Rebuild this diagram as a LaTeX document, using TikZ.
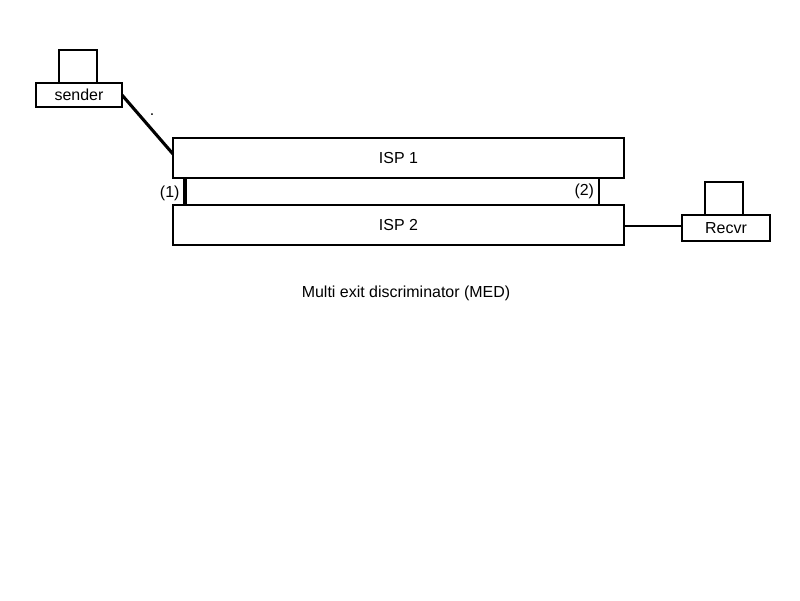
\documentclass[tikz,border=0pt]{standalone}
\usepackage{xcolor}
\usepackage{fontspec}
\setmainfont{Liberation Sans}
\usepackage{tikz}
\usetikzlibrary{positioning}
\newcommand{\difftext}{\fontsize{11.35}{13}\selectfont}
\tikzset{
    ispbox/.style={rectangle, draw=black, line width=1.4pt, outer sep=0pt, inner sep=0pt,
                   minimum width=11.275cm, minimum height=1cm, font=\difftext},
    hostbox/.style={rectangle, draw=black, line width=1.4pt, outer sep=0pt, inner sep=0pt,
                    minimum height=0.6cm, font=\difftext},
    screenbox/.style={rectangle, draw=black, line width=1.4pt, outer sep=0pt,
                      minimum width=0.95cm, minimum height=0.825cm},
    link/.style={draw=black, line width=1.4pt},
    heavylink/.style={draw=black, line width=2.2pt},
    edgelbl/.style={font=\difftext, inner sep=0pt},
    caplbl/.style={font=\difftext, inner sep=0pt},
}
\begin{document}
\begin{tikzpicture}[node distance=0.675cm and 1.45cm]
        \useasboundingbox (0,0) rectangle (20,-15);
        \node[ispbox] (isp1) at (9.9625,-3.95) {ISP 1};
        \node[ispbox, below=of isp1] (isp2) {ISP 2};
        \node[hostbox, minimum width=2.15cm] (sender) at (1.975,-2.375) {sender};
        \node[screenbox, above=0cm of sender, xshift=-0.025cm] (sendertop) {};
        \node[hostbox, minimum width=2.2cm, minimum height=0.65cm, right=of isp2, yshift=-0.075cm] (recvr) {Recvr};
        \node[screenbox, above=0cm of recvr, xshift=-0.05cm] (recvrtop) {};
        \node[caplbl] (title) at (10.15,-7.325) {Multi exit discriminator (MED)};
        \node[caplbl] (speck) at (3.8,-2.87) {.};
        \draw[heavylink] (sender.east) -- ([yshift=0.1cm]isp1.west);
        \draw[heavylink] ([xshift=0.3cm]isp1.south west) -- node[edgelbl, left=0.1cm, midway, yshift=-0.025cm] {(1)} ([xshift=0.3cm,yshift=-0.025cm]isp2.north west);
        \draw[link] ([xshift=-0.625cm]isp1.south east) -- node[edgelbl, left=0.1cm, midway] {(2)} ([xshift=-0.625cm]isp2.north east);
        \draw[link] ([yshift=-0.025cm]isp2.east) -- ([yshift=-0.025cm]isp2.east -| recvr.west);
    \end{tikzpicture}
\end{document}
